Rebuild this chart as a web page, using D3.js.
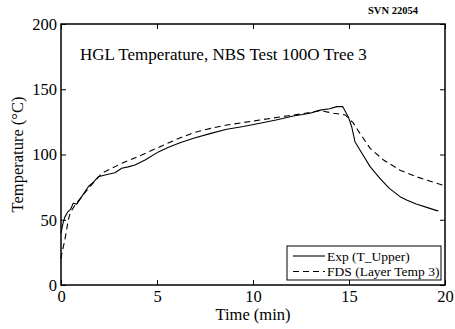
<!DOCTYPE html>
<html><head><meta charset="utf-8">
<script src="https://cdn.jsdelivr.net/npm/d3@7"></script>
<style>body{margin:0;background:#fff}svg{display:block}text{font-family:"Liberation Serif","Times New Roman",Times,"DejaVu Serif",serif;fill:#000}</style>
</head><body>
<svg id="c" width="455" height="329"></svg>
<script>
const title = "HGL Temperature, NBS Test 100O Tree 3";
const xLabel = "Time (min)";
const yLabel = "Temperature (\u00B0C)";
const stamp = "SVN 22054";
const xTicks = [0, 5, 10, 15, 20];
const yTicks = [0, 50, 100, 150, 200];
const seriesNames = ["Exp (T_Upper)", "FDS (Layer Temp 3)"];

const expTime = [0, 0.1, 0.2, 0.35, 0.5, 0.64, 0.82, 1.08, 1.42, 1.7, 1.95, 2.29, 2.81, 3.16, 3.5, 3.85, 4.38, 5.07, 5.6, 6.2, 6.9, 7.76, 8.63, 9.5, 10.36, 11.2, 12.1, 12.97, 13.5, 14.0, 14.36, 14.67, 14.96, 15.14, 15.31, 15.57, 16.1, 16.61, 17.1, 17.66, 18.0, 18.5, 19.05, 19.57, 19.65];
const expTemp = [40, 47, 52, 56, 58, 62.6, 62, 67.7, 75.3, 79, 83, 84.3, 86, 89.4, 90.5, 92, 95.8, 102, 105.5, 109, 112.5, 116, 119.3, 121.5, 124, 126.5, 129.5, 131.6, 134, 135, 136.7, 136.7, 129, 121.3, 109.8, 103.4, 90.7, 81.7, 74, 67.7, 65.1, 62, 59.5, 57, 57];

const fdsTime = [0, 0.03, 0.2, 0.38, 0.47, 0.73, 1.08, 1.5, 2.12, 3.16, 4.2, 5.16, 6.0, 6.9, 7.8, 8.63, 9.5, 10.36, 11.75, 12.45, 13.5, 14.2, 14.8, 15.23, 15.57, 16.1, 16.8, 17.66, 18.5, 19.4, 20];
const fdsTemp = [20, 23, 34.5, 49.8, 55, 61.3, 67.7, 75.3, 85.6, 93.2, 99.6, 106, 111.5, 116.7, 120, 122.6, 124.5, 126.4, 129.5, 131, 133.6, 131.6, 130.3, 124, 116.2, 104.7, 95.8, 88, 83, 78.7, 76];

const FONT = '"Liberation Serif", "Times New Roman", Times, "DejaVu Serif", serif';
const m = {left: 61, right: 445, top: 24, bottom: 285};
const svg = d3.select("#c");
const x = d3.scaleLinear().domain([0, 20]).range([m.left, m.right]);
const y = d3.scaleLinear().domain([0, 200]).range([m.bottom, m.top]);
const fs = 16.5;

svg.append("rect").attr("x", m.left).attr("y", m.top)
  .attr("width", m.right - m.left).attr("height", m.bottom - m.top)
  .attr("fill", "none").attr("stroke", "#000").attr("stroke-width", 1.5);

const tl = 5;
const axB = svg.append("g").attr("transform", `translate(0,${m.bottom})`)
  .call(d3.axisBottom(x).tickValues(xTicks).tickSizeInner(-tl).tickSizeOuter(0).tickPadding(5));
const axT = svg.append("g").attr("transform", `translate(0,${m.top})`)
  .call(d3.axisTop(x).tickValues(xTicks).tickSizeInner(-tl).tickSizeOuter(0).tickFormat(""));
const axL = svg.append("g").attr("transform", `translate(${m.left},0)`)
  .call(d3.axisLeft(y).tickValues(yTicks).tickSizeInner(-tl).tickSizeOuter(0).tickPadding(4));
const axR = svg.append("g").attr("transform", `translate(${m.right},0)`)
  .call(d3.axisRight(y).tickValues(yTicks).tickSizeInner(-tl).tickSizeOuter(0).tickFormat(""));
[axB, axT, axL, axR].forEach(g => {
  g.attr("font-family", FONT);
  g.select(".domain").remove();
  g.selectAll("line").attr("stroke", "#000").attr("stroke-width", 1);
  g.selectAll("text").style("font-family", FONT).style("font-size", fs + "px").attr("fill", "#000");
});

const lineGen = (ts, vs) => d3.line().x((d, i) => x(ts[i])).y((d, i) => y(vs[i]))(ts);
svg.append("path").attr("d", lineGen(expTime, expTemp)).attr("fill", "none")
  .attr("stroke", "#000").attr("stroke-width", 1.1).attr("stroke-linejoin", "round");
svg.append("path").attr("d", lineGen(fdsTime, fdsTemp)).attr("fill", "none")
  .attr("stroke", "#000").attr("stroke-width", 1.1).attr("stroke-dasharray", "6,4");

const T = (sel) => sel.style("font-family", FONT);
T(svg.append("text").attr("x", 80).attr("y", 60).style("font-size", "17px").text(title));
T(svg.append("text").attr("x", 368).attr("y", 14).style("font-size", "10.5px").style("font-weight", "bold").text(stamp));
T(svg.append("text").attr("x", (m.left + m.right) / 2).attr("y", 320).attr("text-anchor", "middle")
  .style("font-size", fs + "px").text(xLabel));
T(svg.append("text").attr("transform", `translate(23,${(m.top + m.bottom) / 2}) rotate(-90)`)
  .attr("text-anchor", "middle").style("font-size", fs + "px").text(yLabel));

const lg = {x0: 287, y0: 246, x1: 441, y1: 280};
svg.append("rect").attr("x", lg.x0).attr("y", lg.y0).attr("width", lg.x1 - lg.x0).attr("height", lg.y1 - lg.y0)
  .attr("fill", "#fff").attr("stroke", "#000").attr("stroke-width", 1);
const rows = [{y: 256, dash: null}, {y: 271.5, dash: "6,4"}];
rows.forEach((r, i) => {
  const ln = svg.append("line").attr("x1", 293).attr("x2", 325).attr("y1", r.y).attr("y2", r.y)
    .attr("stroke", "#000").attr("stroke-width", 1.1);
  if (r.dash) ln.attr("stroke-dasharray", r.dash);
  T(svg.append("text").attr("x", 327).attr("y", r.y + 4.5).style("font-size", "13.5px").text(seriesNames[i]));
});
</script>
</body></html>
